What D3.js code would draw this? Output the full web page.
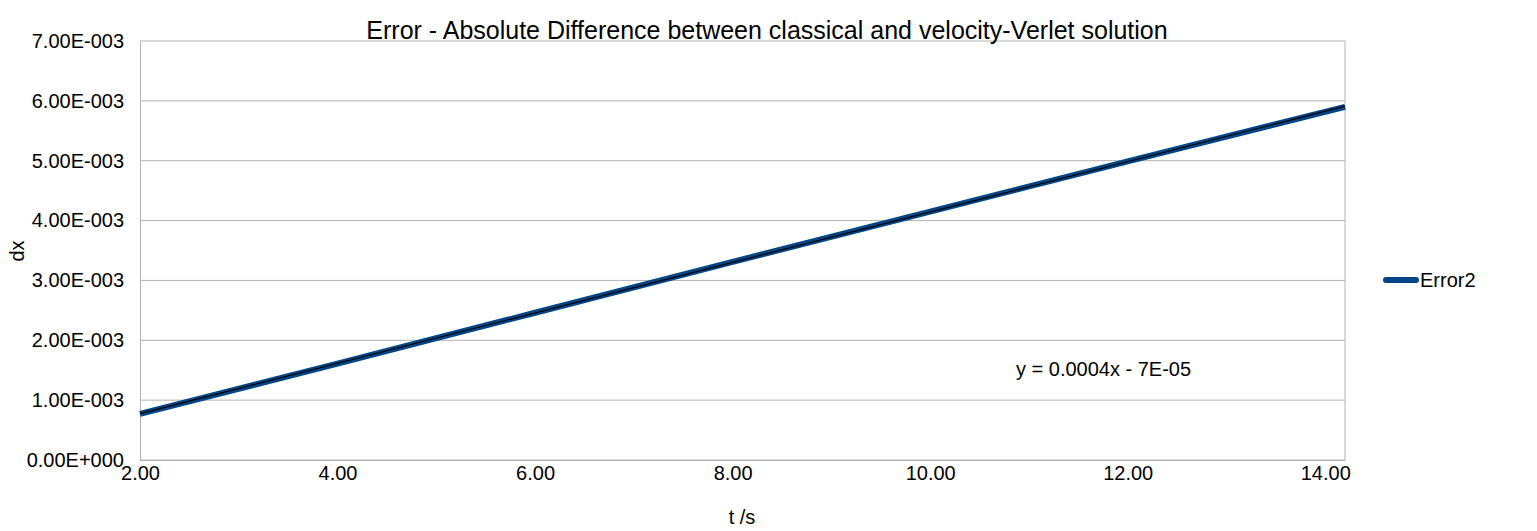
<!DOCTYPE html>
<html><head><meta charset="utf-8">
<script src="https://cdn.jsdelivr.net/npm/d3@7"></script>
<style>body{margin:0;background:#fff}text{font-family:"Liberation Sans",Arial,sans-serif}</style>
</head><body><svg></svg>
<script>
// data
let times = [2, 4, 6, 8, 10, 12, 14.2];
let errors = [0.00077, 0.00161, 0.00246, 0.00331, 0.00415, 0.00499, 0.00590];
let xTicks = [2, 4, 6, 8, 10, 12, 14];
let yTicks = [0, 0.001, 0.002, 0.003, 0.004, 0.005, 0.006, 0.007];
let trendLabel = 'y = 0.0004x - 7E-05';

let config = {svg: {width: 1537, height: 531}, plot: {x: 140, y: 41, width: 1205, height: 419}};

let svg = d3.select('svg').attr('width', config.svg.width).attr('height', config.svg.height);
let plot = svg.append('g').attr('transform', `translate(${config.plot.x},${config.plot.y})`);

let x = d3.scaleLinear().domain([2, 14.2]).range([0, config.plot.width]);
let y = d3.scaleLinear().domain([0, 0.007]).range([config.plot.height, 0]);

// grid
plot.selectAll('.hg').data(yTicks).join('line')
  .attr('x1', 0).attr('x2', config.plot.width)
  .attr('y1', d => y(d)).attr('y2', d => y(d))
  .attr('stroke', '#b3b3b3').attr('stroke-width', 1);
plot.append('line').attr('x1', config.plot.width).attr('x2', config.plot.width)
  .attr('y1', 0).attr('y2', config.plot.height).attr('stroke', '#b3b3b3');

// axes
let xAxis = plot.append('g').attr('transform', `translate(0,${config.plot.height})`)
  .call(d3.axisBottom(x).tickValues(xTicks).tickSize(0).tickPadding(6).tickFormat(d3.format('.2f')));
let yAxis = plot.append('g')
  .call(d3.axisLeft(y).tickValues(yTicks).tickSize(0).tickPadding(16)
    .tickFormat(d => d === 0 ? '0.00E+000' : (d * 1000).toFixed(2) + 'E-003'));
[xAxis, yAxis].forEach(a => {
  a.select('.domain').attr('stroke', '#b3b3b3');
  a.selectAll('text').attr('font-size', 20).attr('fill', '#000');
});

// series
let pts = times.map((t, i) => [t, errors[i]]);
let line = d3.line().x(d => x(d[0])).y(d => y(d[1]));
plot.append('path').datum(pts).attr('d', line)
  .attr('fill', 'none').attr('stroke', '#004586').attr('stroke-width', 6);

// linear trend through the points
let mx = d3.mean(times), my = d3.mean(errors);
let slope = d3.sum(pts, d => (d[0] - mx) * (d[1] - my)) / d3.sum(pts, d => (d[0] - mx) ** 2);
let icpt = my - slope * mx;
plot.append('path').datum([2, 14.2].map(t => [t, slope * t + icpt])).attr('d', line)
  .attr('fill', 'none').attr('stroke', '#000').attr('stroke-width', 1.2);

plot.append('text').attr('x', 876).attr('y', 335).attr('font-size', 20).text(trendLabel);

// titles
svg.append('text').attr('x', 767).attr('y', 39).attr('text-anchor', 'middle')
  .attr('font-size', 25).text('Error - Absolute Difference between classical and velocity-Verlet solution');
svg.append('text').attr('x', 742).attr('y', 524).attr('text-anchor', 'middle')
  .attr('font-size', 20).text('t /s');
svg.append('text').attr('transform', 'translate(24,251) rotate(-90)').attr('text-anchor', 'middle')
  .attr('font-size', 20).text('dx');

// legend
svg.append('line').attr('x1', 1386).attr('x2', 1416).attr('y1', 280).attr('y2', 280)
  .attr('stroke', '#004586').attr('stroke-width', 6).attr('stroke-linecap', 'round');
svg.append('text').attr('x', 1420).attr('y', 287).attr('font-size', 20).text('Error2');
</script></body></html>
